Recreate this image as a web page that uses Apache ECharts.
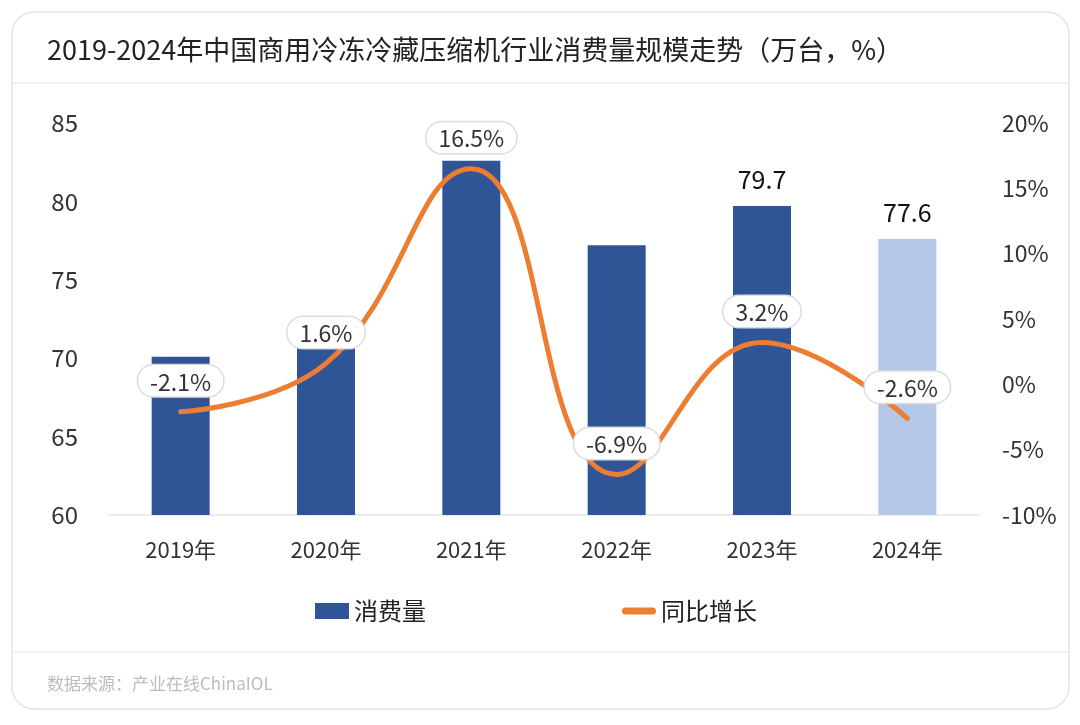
<!DOCTYPE html>
<html>
<head>
<meta charset="utf-8">
<script src="https://cdn.jsdelivr.net/npm/echarts@6/dist/echarts.min.js"></script>
<style>
  html, body { margin: 0; padding: 0; background: #fff; }
  #chart { width: 1080px; height: 725px; }
</style>
</head>
<body>
<div id="chart"></div>
<script>
// data
const years = ["2019年", "2020年", "2021年", "2022年", "2023年", "2024年"];
const consumption = [70.1, 71.2, 82.6, 77.2, 79.7, 77.6];   // 万台
const growth = [-2.1, 1.6, 16.5, -6.9, 3.2, -2.6];          // %
const labelledYears = ["2023年", "2024年"];
const forecastYear = "2024年";

const FONT = '"Noto Sans CJK SC", "Noto Sans", sans-serif';
const BAR = "#2f5597";
const LINE = "#ed7d31";
const chart = echarts.init(document.getElementById("chart"));

const option = {
  animation: false,
  textStyle: { fontFamily: FONT },
  graphic: [
    {
      type: "rect", z: -10,
      shape: { x: 12, y: 12, width: 1057, height: 697, r: 22 },
      style: { fill: "#fff", stroke: "#e4e4e4", lineWidth: 1.5 }
    },
    {
      type: "line", z: -9,
      shape: { x1: 13, y1: 83, x2: 1068, y2: 83 },
      style: { stroke: "#ececec", lineWidth: 1.5 }
    },
    {
      type: "line", z: -9,
      shape: { x1: 13, y1: 652, x2: 1068, y2: 652 },
      style: { stroke: "#ececec", lineWidth: 1.5 }
    },
    {
      type: "text", left: 47, top: 675,
      style: { text: "数据来源：产业在线ChinaIOL", fill: "#bcbcbc", font: "17px " + FONT }
    }
  ],
  title: {
    text: "2019-2024年中国商用冷冻冷藏压缩机行业消费量规模走势（万台，%）",
    left: 42, top: 31,
    textStyle: { fontFamily: FONT, fontSize: 27, fontWeight: "normal", color: "#222" }
  },
  legend: {
    left: 310, top: 594,
    itemWidth: 34, itemHeight: 16, itemGap: 196,
    textStyle: { fontFamily: FONT, fontSize: 24, color: "#222" },
    data: [
      { name: "消费量", icon: "rect", itemStyle: { color: BAR } },
      {
        name: "同比增长",
        icon: "path://M3.5,0 H30.5 A3.5,3.5 0 0 1 30.5,7 H3.5 A3.5,3.5 0 0 1 3.5,0 Z",
        itemStyle: { color: LINE, borderWidth: 0 },
        lineStyle: { width: 0 }
      }
    ]
  },
  grid: { left: 108, right: 100, top: 123, bottom: 210 },
  xAxis: {
    type: "category",
    data: years,
    axisLine: { onZero: false, lineStyle: { color: "#e6e6e6", width: 1.5 } },
    axisTick: { show: false },
    axisLabel: { fontSize: 22, color: "#333", margin: 24 }
  },
  yAxis: [
    {
      type: "value", min: 60, max: 85, interval: 5,
      splitLine: { show: false },
      axisLine: { show: false }, axisTick: { show: false },
      axisLabel: { fontSize: 24, color: "#333", margin: 30 }
    },
    {
      type: "value", min: -10, max: 20, interval: 5,
      splitLine: { show: false },
      axisLine: { show: false }, axisTick: { show: false },
      axisLabel: { fontSize: 23, color: "#333", margin: 22, formatter: "{value}%" }
    }
  ],
  series: [
    {
      name: "消费量",
      type: "bar",
      data: consumption,
      barWidth: 58,
      itemStyle: {
        color: (p) => (years[p.dataIndex] === forecastYear ? "#b4c7e7" : BAR)
      },
      label: {
        show: true, position: "top", distance: 14,
        fontSize: 25, color: "#111",
        formatter: (p) => (labelledYears.includes(p.name) ? p.value.toFixed(1) : "")
      },
      z: 2
    },
    {
      name: "同比增长",
      type: "line",
      yAxisIndex: 1,
      data: growth,
      smooth: 0.45,
      symbol: "circle",
      symbolSize: 1,
      showSymbol: true,
      lineStyle: { color: LINE, width: 5, cap: "round" },
      itemStyle: { color: LINE },
      label: {
        show: true, position: "top", distance: 15,
        fontSize: 23, color: "#333",
        backgroundColor: "#fff",
        borderColor: "#dcdcdc", borderWidth: 1.5, borderRadius: 18,
        padding: [5, 12, 3, 12],
        formatter: (p) => p.value.toFixed(1) + "%"
      },
      z: 5
    }
  ]
};

chart.setOption(option);
</script>
</body>
</html>
